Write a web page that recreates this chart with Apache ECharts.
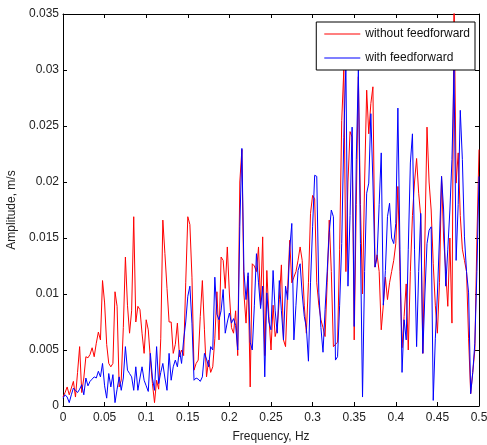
<!DOCTYPE html>
<html>
<head>
<meta charset="utf-8">
<script src="https://cdn.jsdelivr.net/npm/echarts@6/dist/echarts.min.js"></script>
<style>
  html, body { margin: 0; padding: 0; background: #fff; }
  #main { width: 487px; height: 445px; }
</style>
</head>
<body>
<div id="main"></div>
<script>
// amplitude spectra, in 1e-3 m/s, one value per 0.0025 Hz bin from 0 to 0.5 Hz
var redAmp = [
  0.8, 1.2, 1.7, 1.0, 1.6, 2.2, 0.8, 3.0, 5.3, 1.2,
  2.5, 4.4, 4.3, 4.6, 5.2, 4.4, 5.6, 6.6, 5.9, 11.2,
  9.2, 5.5, 3.8, 3.5, 3.8, 10.2, 8.9, 1.7, 2.3, 7.0,
  13.3, 9.0, 6.5, 8.5, 16.9, 7.5, 8.9, 8.6, 6.5, 4.7,
  7.7, 6.8, 4.2, 2.0, 0.3, 2.3, 1.5, 6.0, 16.6, 13.6,
  10.5, 7.5, 7.5, 4.7, 5.5, 7.4, 4.4, 5.0, 4.5, 11.0,
  16.9, 16.2, 11.5, 3.2, 3.8, 4.1, 8.0, 11.2, 6.8, 2.6,
  4.1, 3.0, 3.5, 6.0, 10.2, 5.9, 13.3, 13.0, 10.5, 14.2,
  10.0, 7.0, 6.5, 8.5, 4.5, 20.0, 22.9, 10.0, 7.4, 11.6,
  1.7, 12.7, 12.5, 12.0, 14.2, 9.0, 15.1, 4.5, 12.1, 8.0,
  5.0, 9.0, 6.2, 7.0, 9.5, 12.6, 5.9, 5.3, 10.4, 14.8,
  11.0, 11.5, 12.0, 13.0, 14.2, 13.0, 9.0, 6.5, 11.0, 17.2,
  18.8, 18.5, 11.0, 9.0, 7.7, 7.0, 6.2, 11.0, 16.6, 12.0,
  5.3, 5.5, 5.7, 14.0, 25.5, 30.0, 12.0, 20.0, 24.5, 24.0,
  5.9, 18.0, 29.4, 18.0, 10.0, 20.0, 28.2, 24.3, 27.0, 28.5,
  12.4, 13.5, 12.0, 6.8, 9.0, 11.5, 9.5, 11.0, 12.0, 13.0,
  14.5, 19.6, 12.0, 5.2, 8.0, 10.9, 5.0, 12.0, 17.0, 20.0,
  22.1, 19.0, 16.9, 4.7, 15.0, 24.9, 20.0, 17.5, 12.7, 9.0,
  6.5, 11.0, 20.5, 15.0, 12.0, 8.9, 15.0, 7.4, 37.0, 19.9,
  22.6, 17.0, 14.0, 13.0, 12.0, 6.0, 1.1, 3.0, 5.0, 15.0,
  22.9
];
var blueAmp = [
  0.7, 1.0, 0.8, 0.3, 1.0, 1.6, 1.4, 1.2, 1.5, 1.9,
  1.0, 2.5, 1.8, 2.2, 2.4, 2.6, 2.5, 3.1, 2.6, 3.8,
  1.8, 0.7, 2.9, 1.7, 2.8, 0.3, 1.5, 2.6, 1.4, 2.5,
  5.3, 3.2, 2.9, 2.6, 1.4, 3.5, 1.4, 2.5, 3.5, 2.3,
  1.8, 1.3, 4.7, 2.5, 1.4, 5.3, 2.0, 3.0, 3.8, 2.5,
  1.4, 4.7, 2.3, 3.5, 4.1, 3.5, 5.0, 3.8, 5.9, 7.5,
  9.8, 10.7, 7.4, 2.3, 2.5, 2.4, 2.2, 2.6, 4.7, 4.2,
  3.5, 5.3, 5.0, 11.5, 8.2, 7.7, 8.5, 10.4, 6.5, 7.5,
  8.3, 7.4, 7.8, 7.2, 5.0, 16.0, 23.0, 12.0, 9.5, 11.9,
  5.7, 5.0, 9.0, 13.6, 11.0, 8.7, 10.7, 2.6, 10.1, 7.5,
  6.8, 12.1, 8.5, 6.5, 11.2, 8.5, 5.9, 10.7, 9.5, 14.0,
  16.3, 5.9, 9.0, 12.1, 12.7, 10.0, 8.0, 7.0, 4.0, 11.0,
  16.0, 20.6, 20.5, 10.1, 7.0, 4.8, 8.6, 12.0, 15.5, 17.5,
  16.9, 4.1, 4.4, 9.0, 14.5, 24.0, 30.5, 10.7, 17.0, 24.9,
  7.1, 22.0, 30.0, 14.5, 0.8, 12.0, 19.0, 19.9, 26.1, 20.0,
  12.4, 13.3, 18.0, 22.6, 9.0, 12.1, 16.9, 18.1, 15.0, 14.5,
  16.3, 26.6, 14.0, 3.0, 7.7, 5.9, 14.0, 21.7, 24.3, 14.0,
  5.3, 12.0, 17.2, 4.7, 10.0, 14.5, 15.7, 16.0, 0.5, 6.0,
  10.0, 15.0, 20.5, 17.5, 10.7, 14.0, 17.5, 22.0, 30.0, 13.0,
  18.0, 26.4, 22.0, 15.1, 12.0, 10.1, 1.1, 3.0, 5.6, 12.0,
  20.5
];
var binWidth = 0.0025;
var seriesNames = ['without feedforward', 'with feedforward'];
var xTicks = { min: 0, max: 0.5, interval: 0.05 };
var yTicks = { min: 0, max: 35, interval: 5 };

function toPairs(arr) {
  return arr.map(function (v, i) { return [i * binWidth, v]; });
}

var myChart = echarts.init(document.getElementById('main'));
var font = 'Liberation Sans, Arial, sans-serif';
var axisCommon = {
  axisLine: { show: true, onZero: false, lineStyle: { color: '#000', width: 1 } },
  axisTick: { show: true, inside: true, length: 4, lineStyle: { color: '#000' } },
  splitLine: { show: false }
};

var option = {
  animation: false,
  backgroundColor: '#fff',
  grid: { left: 63, right: 8, top: 14, bottom: 39, outerBoundsMode: 'none' },
  legend: {
    data: seriesNames,
    orient: 'vertical',
    right: 12,
    top: 22,
    icon: 'rect',
    backgroundColor: '#fff',
    borderColor: '#000',
    borderWidth: 1,
    borderRadius: 0,
    padding: [5, 5, 5, 8],
    itemWidth: 36,
    itemHeight: 1,
    itemGap: 10,
    textStyle: { fontFamily: font, fontSize: 12, lineHeight: 14, color: '#111' }
  },
  xAxis: [
    Object.assign({
      type: 'value', position: 'bottom',
      min: xTicks.min, max: xTicks.max, interval: xTicks.interval,
      name: 'Frequency, Hz', nameLocation: 'middle', nameGap: 25,
      nameTextStyle: { fontFamily: font, fontSize: 12, color: '#222' },
      axisLabel: { fontFamily: font, fontSize: 12, color: '#222', margin: 6 }
    }, axisCommon),
    Object.assign({
      type: 'value', position: 'top',
      min: xTicks.min, max: xTicks.max, interval: xTicks.interval,
      axisLabel: { show: false }
    }, axisCommon)
  ],
  yAxis: [
    Object.assign({
      type: 'value', position: 'left',
      min: yTicks.min, max: yTicks.max, interval: yTicks.interval,
      name: 'Amplitude, m/s', nameLocation: 'middle', nameGap: 36,
      nameTextStyle: { fontFamily: font, fontSize: 12, color: '#222' },
      axisLabel: {
        fontFamily: font, fontSize: 12, color: '#222', margin: 4,
        formatter: function (v) { return String(v / 1000); }
      }
    }, axisCommon),
    Object.assign({
      type: 'value', position: 'right',
      min: yTicks.min, max: yTicks.max, interval: yTicks.interval,
      axisLabel: { show: false }
    }, axisCommon)
  ],
  series: [
    {
      name: seriesNames[0], type: 'line',
      data: toPairs(redAmp),
      symbol: 'none', showSymbol: false,
      lineStyle: { color: '#ff0000', width: 1 },
      itemStyle: { color: '#ff0000' },
      clip: true
    },
    {
      name: seriesNames[1], type: 'line',
      data: toPairs(blueAmp),
      symbol: 'none', showSymbol: false,
      lineStyle: { color: '#0000ff', width: 1 },
      itemStyle: { color: '#0000ff' },
      clip: true
    }
  ]
};

myChart.setOption(option);
</script>
</body>
</html>
